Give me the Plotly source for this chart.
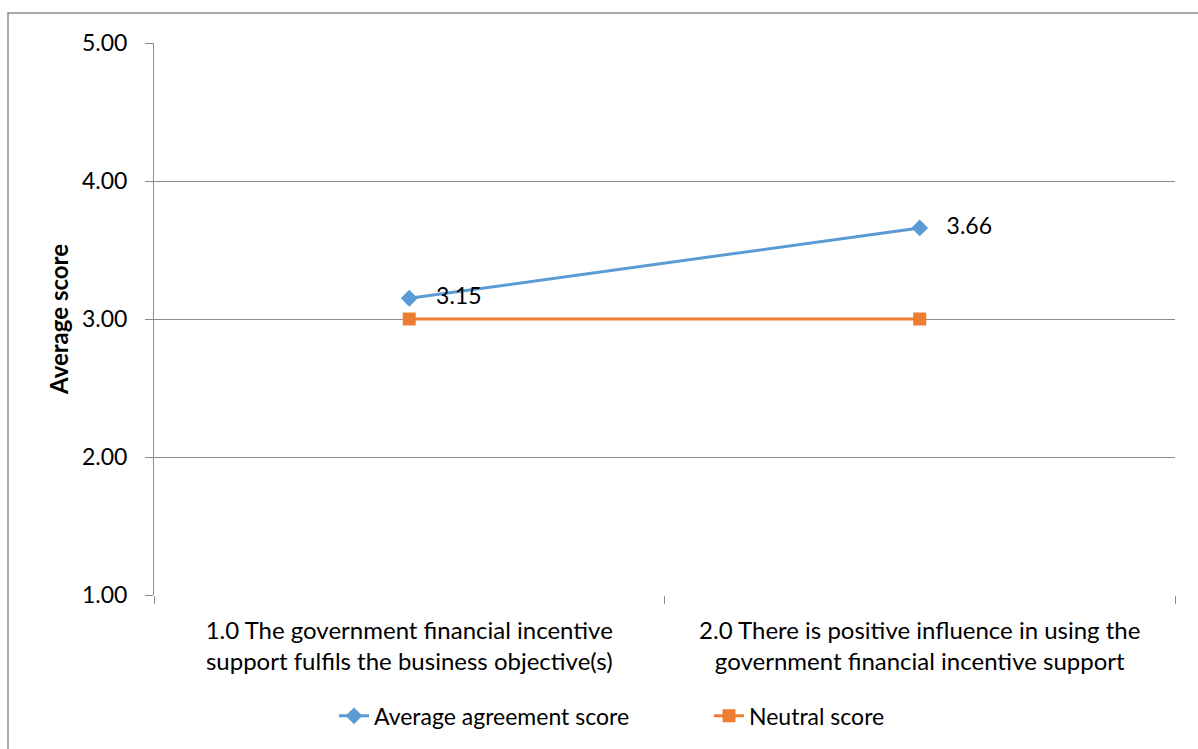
import plotly.graph_objects as go

categories = [
    "1.0 The government financial incentive<br>support fulfils the business objective(s)",
    "2.0 There is positive influence in using the<br>government financial incentive support",
]
average_agreement = [3.15, 3.66]
neutral_score = [3.0, 3.0]
y_ticks = [1, 2, 3, 4, 5]

FONT = "Lato"
GRID = "#8c8c8c"

fig = go.Figure()
fig.add_trace(go.Scatter(
    x=categories, y=average_agreement, name="Average agreement score",
    mode="lines+markers+text",
    text=[f"   {v:.2f}" for v in average_agreement],
    textposition="middle right",
    textfont=dict(family=FONT, size=23, color="#000000"),
    line=dict(color="#5B9BD5", width=3),
    marker=dict(symbol="diamond", size=13, color="#5B9BD5"),
    cliponaxis=False,
))
fig.add_trace(go.Scatter(
    x=categories, y=neutral_score, name="Neutral score",
    mode="lines+markers",
    line=dict(color="#ED7D31", width=3),
    marker=dict(symbol="square", size=13, color="#ED7D31"),
    cliponaxis=False,
))

# outer chart frame (top and left edges visible)
fig.add_shape(type="rect", xref="paper", yref="paper",
              x0=(8 - 154) / 1021, x1=(1210 - 154) / 1021,
              y0=(595 - 760) / 552, y1=(595 - 13) / 552,
              line=dict(color="#8c8c8c", width=1.5), layer="below")

fig.update_layout(
    width=1198, height=749,
    margin=dict(l=154, r=23, t=43, b=154),
    paper_bgcolor="white", plot_bgcolor="white",
    font=dict(family=FONT, size=23, color="#000000"),
    showlegend=True,
    legend=dict(orientation="h", x=(334 - 154) / 1021, xanchor="left", y=-0.219, yanchor="middle",
                font=dict(family=FONT, size=23), entrywidth=330, entrywidthmode="pixels",
                tracegroupgap=0),
    xaxis=dict(
        type="category", range=[-0.5, 1.5],
        tickson="boundaries", ticks="outside", ticklen=8, tickcolor=GRID,
        showgrid=False, showline=False, zeroline=False,
        tickfont=dict(family=FONT, size=24), ticklabelstandoff=19,
    ),
    yaxis=dict(
        range=[1, 5], tickvals=y_ticks, ticktext=[f"{v:.2f}" for v in y_ticks],
        ticks="outside", ticklen=8, tickcolor=GRID,
        showgrid=True, gridcolor=GRID, gridwidth=1,
        showline=True, linecolor=GRID, linewidth=1, zeroline=False,
        tickfont=dict(family=FONT, size=23), ticklabelstandoff=13,
        title=dict(text="<b>Average score</b>", font=dict(family=FONT, size=24), standoff=6),
    ),
)

fig.write_html("out.html")
